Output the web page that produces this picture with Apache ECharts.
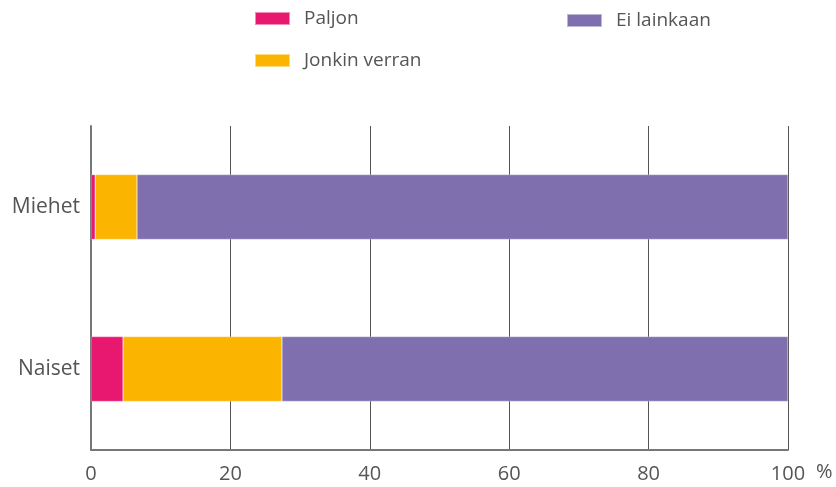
<!DOCTYPE html>
<html><head><meta charset="utf-8">
<script src="https://cdn.jsdelivr.net/npm/echarts@6/dist/echarts.min.js"></script>
<style>html,body{margin:0;padding:0;background:#fff}#c{width:836px;height:487px}</style>
</head><body><div id="c"></div>
<script>
const categories = ['Miehet', 'Naiset'];
const seriesNames = ['Paljon', 'Jonkin verran', 'Ei lainkaan'];
const paljon = [0.6, 4.6];
const jonkinVerran = [6.0, 22.8];
const eiLainkaan = [93.4, 72.6];
const xTicks = [0, 20, 40, 60, 80, 100];
const colors = ['#E8176F', '#FBB400', '#7F6FAF'];
const values = [paljon, jonkinVerran, eiLainkaan];

const font = '"Open Sans", "Noto Sans", sans-serif';
const txt = {color: '#555', fontSize: 20, fontFamily: font};
const chart = echarts.init(document.getElementById('c'), null, {renderer: 'canvas'});
const legendPos = [{left: 249, top: 4}, {left: 249, top: 46}, {left: 561, top: 6}];
chart.setOption({
  animation: false,
  color: colors,
  legend: seriesNames.map((n, i) => ({
    data: [n], left: legendPos[i].left, top: legendPos[i].top,
    itemWidth: 35, itemHeight: 13, itemGap: 14, icon: 'rect',
    textStyle: Object.assign({}, txt, {fontSize: 19, padding: [0, 0, 0, 9]}), selectedMode: false
  })),
  grid: {left: 91, right: 48, top: 126, bottom: 37, containLabel: false},
  xAxis: {
    type: 'value', min: 0, max: 100, interval: 20,
    axisLine: {show: true, lineStyle: {color: '#777', width: 2}},
    axisTick: {show: false},
    splitLine: {show: true, lineStyle: {color: '#555', width: 1}},
    axisLabel: Object.assign({}, txt, {margin: 14, formatter: v => xTicks.includes(v) ? String(v) : ''})
  },
  yAxis: {
    type: 'category', data: categories, inverse: true,
    axisLine: {show: true, lineStyle: {color: '#777', width: 2}},
    axisTick: {show: false},
    axisLabel: Object.assign({}, txt, {fontSize: 21, margin: 11})
  },
  graphic: [{type: 'text', left: 816, top: 462, style: {text: '%', fill: '#555', font: '20px ' + font}}],
  series: seriesNames.map((n, i) => ({
    name: n, type: 'bar', stack: 'total', data: values[i], barWidth: '40%',
    itemStyle: {borderColor: 'rgba(255,255,255,0.5)', borderWidth: 0.5}
  }))
});
</script></body></html>
